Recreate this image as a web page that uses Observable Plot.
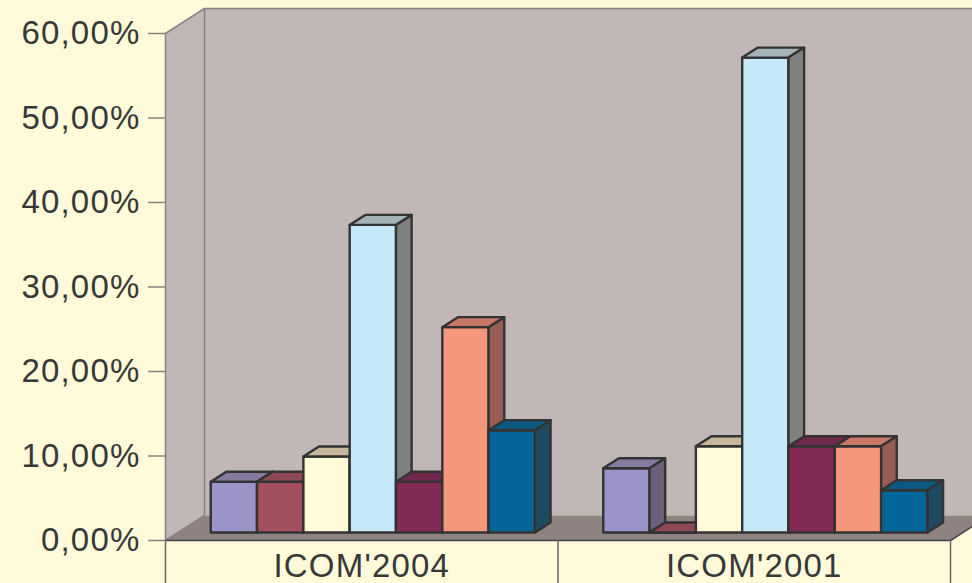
<!DOCTYPE html>
<html><head><meta charset="utf-8">
<script src="https://cdn.jsdelivr.net/npm/d3@7"></script>
<script src="https://cdn.jsdelivr.net/npm/@observablehq/plot@0.6"></script>
<style>
html,body{margin:0;padding:0;background:#FFFAD9;overflow:hidden}
#chart{width:972px;height:583px;overflow:hidden}
</style></head><body><div id="chart"></div>
<script>
// ---- data ----
const categories = ["ICOM'2004", "ICOM'2001"];
const icom2004 = [6.0, 6.0, 9.0, 36.4, 6.0, 24.3, 12.1];
const icom2001 = [7.6, 0.0, 10.2, 56.2, 10.2, 10.2, 5.0];
const yTicks = [0, 10, 20, 30, 40, 50, 60];
const seriesValues = [icom2004, icom2001];

// ---- styles ----
const frontColors = ["#9A94C8", "#A4505E", "#FFFAD7", "#C6E9F9", "#822A54", "#F5977A", "#02669B"];
const topColors   = ["#847B9F", "#8D4A56", "#C7B89B", "#A3B4B9", "#72294E", "#C67766", "#0C5A81"];
const sideColors  = ["#6B5F7B", "#7A3A48", "#BDB08E", "#808080", "#5E1F3E", "#965D54", "#1F4B62"];
const bg = "#FFFAD9", wallFill = "#C0B7B6", floorFill = "#8F8381", wallStroke = "#8A8080";

// ---- layout ----
const W = 972, H = 583, mL = 165, mR = 22, mT = 33, mB = 43;
const xDomain = [0, categories.length], yDomain = [0, 60];
const depthPx = [39, 25];
const pxPerX = (W - mL - mR) / (xDomain[1] - xDomain[0]);
const pxPerY = (H - mT - mB) / (yDomain[1] - yDomain[0]);
const P = (x, y, d) => ({x: x + d * depthPx[0] / pxPerX, y: y + d * depthPx[1] / pxPerY});
const barD0 = 0.32, barD1 = 0.72;
const groupPad = 0.0835, barW = 0.118;

// ---- bar faces (painter's order) ----
const faces = [];
let fid = 0;
const poly = (pts, fill) => { const id = fid++; pts.forEach(p => faces.push({id, fill, x: p.x, y: p.y})); };
seriesValues.forEach((vals, i) => vals.forEach((v, j) => {
  const x0 = i + groupPad + j * barW, x1 = x0 + barW;
  poly([P(x0, 0, barD0), P(x1, 0, barD0), P(x1, v, barD0), P(x0, v, barD0)], frontColors[j]);
  poly([P(x0, v, barD0), P(x1, v, barD0), P(x1, v, barD1), P(x0, v, barD1)], topColors[j]);
  poly([P(x1, 0, barD0), P(x1, 0, barD1), P(x1, v, barD1), P(x1, v, barD0)], sideColors[j]);
}));

// ---- walls ----
const yMax = yDomain[1], xEnd = xDomain[1], wallEnd = xDomain[1] + 0.2;
const leftWall = [P(0, 0, 0), P(0, yMax, 0), P(0, yMax, 1), P(0, 0, 1)];
const backWall = [P(0, 0, 1), P(0, yMax, 1), P(wallEnd, yMax, 1), P(wallEnd, 0, 1)];
const backTop = [P(0, yMax, 1), P(wallEnd, yMax, 1)];
const floor = [P(0, 0, 0), P(xEnd, 0, 0), P(xEnd, 0, 1), P(0, 0, 1)];
const floorRight = [P(xEnd, 0, 0), P(xEnd, 0, 1)];

const chart = Plot.plot({
  width: W, height: H,
  marginLeft: mL, marginRight: mR, marginTop: mT, marginBottom: mB,
  x: {domain: xDomain, label: null},
  y: {domain: yDomain, label: null},
  color: {type: "identity"},
  style: {background: bg, fontFamily: "'Liberation Sans', Arial, sans-serif", fontSize: "33px", letterSpacing: "1.2px", color: "#383838", overflow: "hidden"},
  marks: [
    Plot.line(backWall, {x: "x", y: "y", fill: wallFill, stroke: "none", curve: "linear-closed"}),
    Plot.line(backTop, {x: "x", y: "y", stroke: wallStroke, strokeWidth: 1.5}),
    Plot.line(floor, {x: "x", y: "y", fill: floorFill, stroke: "none", curve: "linear-closed"}),
    Plot.line(leftWall, {x: "x", y: "y", fill: wallFill, stroke: wallStroke, strokeWidth: 1.5, curve: "linear-closed"}),
    Plot.line(floorRight, {x: "x", y: "y", stroke: "#444", strokeWidth: 1.5}),
    Plot.ruleY([0], {stroke: "#444", strokeWidth: 1.5}),
    Plot.axisX({ticks: d3.range(xDomain[0], xDomain[1] + 1), tickSize: 45, tickFormat: () => "", stroke: "#6B6363", strokeWidth: 1.5, label: null}),
    Plot.axisX({ticks: categories.map((c, i) => i + 0.5), tickSize: 0, tickPadding: 13, tickFormat: d => categories[Math.floor(d)], label: null}),
    Plot.axisY({ticks: yTicks, tickSize: 17, tickPadding: 8, tickFormat: d => d.toFixed(2).replace(".", ",") + "%", stroke: wallStroke, strokeWidth: 1.5, label: null}),
    Plot.line(faces, {x: "x", y: "y", z: "id", fill: "fill", stroke: "#333", strokeWidth: 2.4, strokeLinejoin: "round", curve: "linear-closed"})
  ]
});
document.getElementById("chart").appendChild(chart);
</script></body></html>
